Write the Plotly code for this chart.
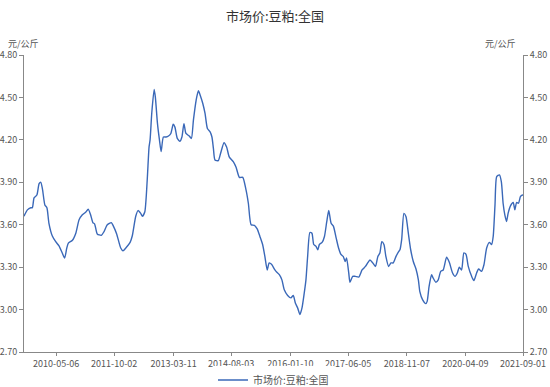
import plotly.graph_objects as go

title_text = "市场价:豆粕:全国"
series_name = "市场价:豆粕:全国"
unit_label = "元/公斤"

dates = [
    "2009-07-25", "2009-08-24", "2009-09-23", "2009-10-07", "2009-10-22", "2009-11-16", "2009-12-06", "2009-12-21",
    "2010-01-05", "2010-01-26", "2010-02-13", "2010-03-03", "2010-04-02", "2010-05-02", "2010-05-31", "2010-06-29",
    "2010-07-20", "2010-08-08", "2010-08-22", "2010-09-27", "2010-10-27", "2010-11-25", "2010-12-24",
    "2011-01-24", "2011-02-14", "2011-03-07", "2011-03-27", "2011-04-12", "2011-05-05", "2011-06-10", "2011-07-03",
    "2011-08-02", "2011-09-07", "2011-09-25", "2011-10-24", "2011-11-29", "2011-12-19",
    "2012-01-13", "2012-02-20", "2012-03-10", "2012-04-10", "2012-04-30", "2012-05-24", "2012-06-08", "2012-06-29",
    "2012-07-21", "2012-08-06", "2012-08-15", "2012-08-30", "2012-09-20", "2012-10-01", "2012-10-19", "2012-11-06",
    "2012-11-21", "2012-12-11",
    "2013-01-04", "2013-01-25", "2013-02-15", "2013-03-08", "2013-03-23", "2013-04-13", "2013-05-07", "2013-05-24",
    "2013-06-11", "2013-06-29", "2013-07-28", "2013-08-16", "2013-09-03", "2013-09-27", "2013-10-17", "2013-11-02",
    "2013-11-25", "2013-12-15",
    "2014-01-05", "2014-01-29", "2014-02-14", "2014-02-27", "2014-03-13", "2014-04-11", "2014-05-02", "2014-06-01",
    "2014-06-24", "2014-07-17", "2014-08-22", "2014-09-16", "2014-10-15", "2014-11-14", "2014-12-13",
    "2015-01-03", "2015-01-27", "2015-02-25", "2015-03-22", "2015-04-15", "2015-05-09", "2015-05-29", "2015-06-19",
    "2015-07-06", "2015-07-27", "2015-08-26", "2015-09-05", "2015-10-04", "2015-10-27", "2015-11-17", "2015-12-17",
    "2016-01-15", "2016-02-05", "2016-02-23", "2016-03-14", "2016-04-04", "2016-04-22", "2016-05-12", "2016-05-27",
    "2016-06-11", "2016-07-01", "2016-07-19", "2016-08-04", "2016-08-24", "2016-09-09", "2016-09-23", "2016-10-17",
    "2016-11-07", "2016-11-27", "2016-12-15",
    "2017-01-05", "2017-01-25", "2017-02-19", "2017-03-12", "2017-04-02", "2017-04-22", "2017-05-10", "2017-05-22",
    "2017-06-10", "2017-06-21", "2017-07-15", "2017-08-07", "2017-09-07", "2017-10-06", "2017-11-05", "2017-11-25",
    "2017-12-15",
    "2018-01-09", "2018-02-02", "2018-02-23", "2018-03-13", "2018-03-30", "2018-04-18", "2018-05-05", "2018-05-29",
    "2018-06-19", "2018-07-09", "2018-08-03", "2018-08-26", "2018-09-07", "2018-09-22", "2018-10-12", "2018-10-30",
    "2018-11-20", "2018-12-11",
    "2019-01-03", "2019-01-27", "2019-02-17", "2019-03-02", "2019-03-26", "2019-04-24", "2019-05-06", "2019-05-23",
    "2019-06-14", "2019-06-28", "2019-07-22", "2019-08-12", "2019-09-03", "2019-09-25", "2019-10-25", "2019-11-18",
    "2019-12-17",
    "2020-01-08", "2020-01-28", "2020-02-15", "2020-03-06", "2020-03-26", "2020-04-14", "2020-05-04", "2020-06-03",
    "2020-06-23", "2020-07-17", "2020-08-04", "2020-08-30", "2020-09-20", "2020-10-14", "2020-11-07", "2020-11-27",
    "2020-12-11", "2020-12-27",
    "2021-01-11", "2021-02-04", "2021-02-21", "2021-03-09", "2021-03-24", "2021-04-08", "2021-04-22", "2021-05-13",
    "2021-06-06", "2021-06-21", "2021-07-06", "2021-07-23", "2021-08-10", "2021-08-28", "2021-09-01",
]

prices = [
    3.66, 3.705, 3.72, 3.72, 3.79, 3.81, 3.89, 3.90,
    3.85, 3.74, 3.72, 3.61, 3.52, 3.48, 3.45, 3.40,
    3.365, 3.435, 3.47, 3.49, 3.54, 3.635, 3.67,
    3.69, 3.71, 3.67, 3.615, 3.605, 3.535, 3.525, 3.55,
    3.60, 3.615, 3.59, 3.535, 3.435, 3.415,
    3.435, 3.475, 3.52, 3.66, 3.70, 3.68, 3.66, 3.69,
    3.92, 4.15, 4.20, 4.39, 4.556, 4.50, 4.32, 4.20,
    4.117, 4.22,
    4.22, 4.227, 4.245, 4.31, 4.29, 4.21, 4.19, 4.22,
    4.315, 4.245, 4.227, 4.21, 4.34, 4.48, 4.547, 4.516,
    4.457, 4.387,
    4.28, 4.257, 4.22, 4.14, 4.058, 4.053, 4.105, 4.18,
    4.15, 4.08, 4.046, 4.006, 3.935, 3.935, 3.846,
    3.75, 3.60, 3.595, 3.57, 3.517, 3.46, 3.376, 3.28,
    3.33, 3.32, 3.28, 3.27, 3.247, 3.21, 3.14, 3.10,
    3.083, 3.10, 3.047, 3.012, 2.965, 3.012, 3.118, 3.21,
    3.376, 3.545, 3.54, 3.46, 3.447, 3.423, 3.46, 3.475,
    3.517, 3.62, 3.70,
    3.61, 3.59, 3.505, 3.435, 3.39, 3.376, 3.34, 3.365,
    3.26, 3.193, 3.235, 3.235, 3.23, 3.28, 3.305, 3.33,
    3.35,
    3.33, 3.305, 3.376, 3.40, 3.48, 3.46, 3.376, 3.305,
    3.33, 3.33, 3.376, 3.41, 3.423, 3.494, 3.68, 3.658,
    3.54, 3.423,
    3.34, 3.287, 3.21, 3.127, 3.07, 3.042, 3.058, 3.164,
    3.247, 3.223, 3.193, 3.21, 3.27, 3.28, 3.37, 3.334,
    3.259,
    3.235, 3.259, 3.30, 3.28, 3.40, 3.39, 3.305, 3.235,
    3.205, 3.259, 3.287, 3.27, 3.317, 3.435, 3.475, 3.46,
    3.517, 3.74,
    3.94, 3.952, 3.905, 3.75, 3.67, 3.623, 3.68, 3.733,
    3.757, 3.705, 3.757, 3.752, 3.80, 3.81, 3.81,
]

x_ticks = ["2010-05-06", "2011-10-02", "2013-03-11", "2014-08-03", "2016-01-10",
           "2017-06-05", "2018-11-07", "2020-04-09", "2021-09-01"]
y_ticks = [2.70, 3.00, 3.30, 3.60, 3.90, 4.20, 4.50, 4.80]

FONT = "Noto Sans CJK SC, Microsoft YaHei, sans-serif"
LINE_COLOR = "#3a68b8"
AXIS_COLOR = "#888888"
TEXT_COLOR = "#555555"

W, H = 550, 387

fig = go.Figure()
fig.add_trace(go.Scatter(
    x=dates, y=prices, mode="lines", name=series_name,
    line=dict(color=LINE_COLOR, width=1.4, shape="spline", smoothing=0.6),
    yaxis="y",
))
fig.add_trace(go.Scatter(
    x=dates, y=prices, mode="lines", name=series_name, showlegend=False,
    line=dict(color=LINE_COLOR, width=1.4, shape="spline", smoothing=0.6),
    opacity=0, hoverinfo="skip", yaxis="y2",
))

yaxis_common = dict(
    range=[2.70, 4.80], tickvals=y_ticks, tickformat=".2f",
    showgrid=False, zeroline=False, showline=True, linecolor=AXIS_COLOR, linewidth=1,
    ticks="outside", ticklen=4, tickcolor=AXIS_COLOR, automargin=False,
    tickfont=dict(size=9, color=TEXT_COLOR, family=FONT),
)

fig.update_layout(
    width=W, height=H,
    margin=dict(l=24, r=27, t=55, b=35, autoexpand=False),
    paper_bgcolor="white", plot_bgcolor="white",
    font=dict(family=FONT, color=TEXT_COLOR),
    title=dict(text=title_text, x=0.5, xanchor="center", y=1 - 16 / H, yanchor="middle",
               font=dict(size=13, color="#333333", family=FONT)),
    xaxis=dict(
        type="date", range=["2009-07-25", "2021-09-01"],
        tickvals=x_ticks, ticktext=x_ticks, automargin=False,
        showgrid=False, zeroline=False, showline=True, linecolor=AXIS_COLOR, linewidth=1,
        ticks="outside", ticklen=3, tickcolor=AXIS_COLOR,
        tickfont=dict(size=9, color=TEXT_COLOR, family=FONT),
    ),
    yaxis=dict(side="left", **yaxis_common),
    yaxis2=dict(side="right", overlaying="y", anchor="x", **yaxis_common),
    showlegend=True,
    legend=dict(orientation="h", x=0.5, xanchor="center",
                yref="container", y=1 - 380 / H, yanchor="middle",
                font=dict(size=10, color=TEXT_COLOR, family=FONT), itemwidth=30),
    annotations=[
        dict(text=unit_label, xref="paper", yref="paper", x=0, y=1, xshift=-1, yshift=12,
             xanchor="center", yanchor="middle", showarrow=False,
             font=dict(size=9, color=TEXT_COLOR, family=FONT)),
        dict(text=unit_label, xref="paper", yref="paper", x=1, y=1, xshift=-23, yshift=12,
             xanchor="center", yanchor="middle", showarrow=False,
             font=dict(size=9, color=TEXT_COLOR, family=FONT)),
    ],
)

fig.write_html(
    "out.html",
    config={"displayModeBar": False},
    post_script="document.body.style.margin='0';document.body.style.padding='0';",
)
